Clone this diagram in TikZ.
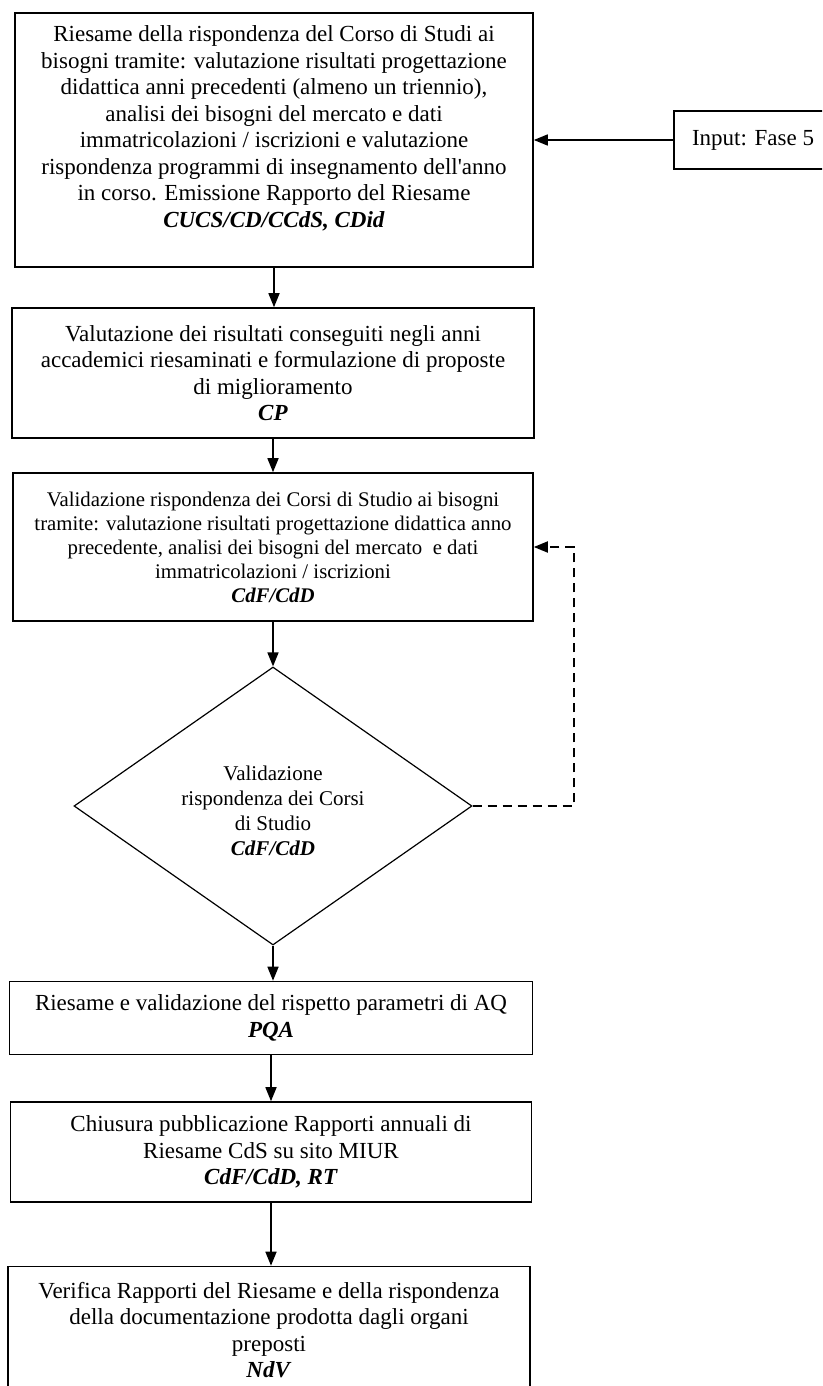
\documentclass[tikz,border=0pt]{standalone}
\usepackage{fontspec}
\setmainfont{Liberation Serif}
\usetikzlibrary{shapes.geometric,arrows.meta,positioning}
\newcommand{\ruolo}[1]{\textbf{\textit{#1}}}

\begin{document}
\begin{tikzpicture}[x=1pt,y=1pt,
    fase/.style={draw, line width=1.6pt, align=center, inner sep=0pt,
      font=\fontsize{23}{26.5}\selectfont},
    freccia/.style={line width=1.6pt, -{Triangle[length=14pt,width=11pt]}}]
  \clip (0,0) rectangle (822,-1386);
  % Define boxes
  \node[fase, minimum width=518pt, minimum height=254pt] (riesame) at (274,-140)
    {Riesame della rispondenza del Corso di Studi ai\\
     bisogni tramite: valutazione risultati progettazione\\
     didattica anni precedenti (almeno un triennio),\\
     analisi dei bisogni del mercato e dati\\
     immatricolazioni / iscrizioni e valutazione\\
     rispondenza programmi di insegnamento dell\textquotesingle anno\\
     in corso. Emissione Rapporto del Riesame\\
     \ruolo{CUCS/CD/CCdS, CDid}\\ \mbox{}};
  \node[fase, minimum width=158pt, minimum height=58pt] (input) at (753,-140)
    {Input: Fase 5};
  \node[fase, minimum width=522pt, minimum height=130pt] (valutazione) at (273,-373)
    {Valutazione dei risultati conseguiti negli anni\\
     accademici riesaminati e formulazione di proposte\\
     di miglioramento\\
     \ruolo{CP}};
  \node[fase, minimum width=520pt, minimum height=148pt,
    font=\fontsize{20.8}{24}\selectfont] (validazione) at (273,-547)
    {Validazione rispondenza dei Corsi di Studio ai bisogni\\
     tramite: valutazione risultati progettazione didattica anno\\
     precedente, analisi dei bisogni del mercato \ e dati\\
     immatricolazioni / iscrizioni\\
     \ruolo{CdF/CdD}};
  \node[fase, diamond, aspect=1.43, line width=1.2pt, minimum width=398pt,
    minimum height=278pt, font=\fontsize{21}{25}\selectfont] (controllo) at (273,-806)
    {\mbox{}\\ Validazione\\ rispondenza dei Corsi\\ di Studio\\ \ruolo{CdF/CdD}};
  \node[fase, minimum width=523pt, minimum height=73pt] (parametri) at (271,-1018)
    {Riesame e validazione del rispetto parametri di AQ\\
     \ruolo{PQA}};
  \node[fase, minimum width=521pt, minimum height=100pt] (chiusura) at (271,-1152)
    {Chiusura pubblicazione Rapporti annuali di\\
     Riesame CdS su sito MIUR\\
     \ruolo{CdF/CdD, RT}};
  \node[fase, minimum width=522pt, minimum height=127pt] (verifica) at (269,-1330)
    {Verifica Rapporti del Riesame e della rispondenza\\
     della documentazione prodotta dagli organi\\
     preposti\\
     \ruolo{NdV}};
  % Connect boxes
  \draw[freccia] (input) -- (riesame);
  \draw[freccia] (riesame.south) -- (riesame.south |- valutazione.north);
  \draw[freccia] (valutazione.south) -- (valutazione.south |- validazione.north);
  \draw[freccia] (validazione.south) -- (controllo.north);
  \draw[freccia] (controllo.south) -- (controllo.south |- parametri.north);
  \draw[freccia] (parametri.south) -- (parametri.south |- chiusura.north);
  \draw[freccia] (chiusura.south) -- (chiusura.south |- verifica.north);
  % Feedback loop
  \coordinate (ritorno) at (574,-806);
  \draw[freccia, line width=1.8pt, dash pattern=on 9pt off 6pt]
    (controllo.east) -- (ritorno) |- (validazione.east);
\end{tikzpicture}
\end{document}
